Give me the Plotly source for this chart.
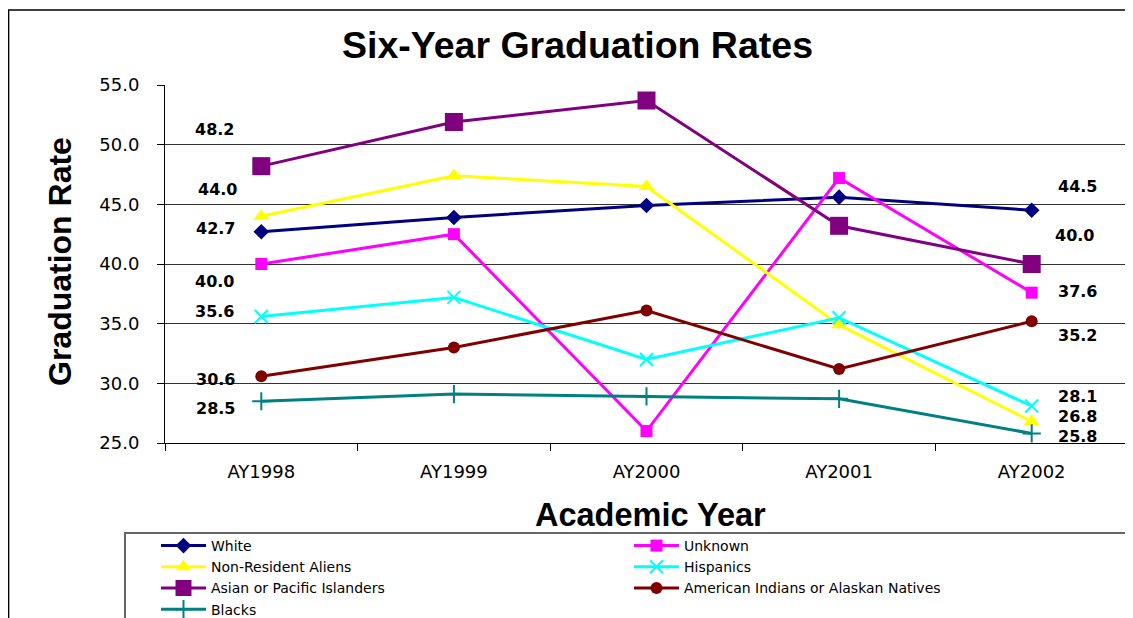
import plotly.graph_objects as go

# data
years = ["AY1998", "AY1999", "AY2000", "AY2001", "AY2002"]

white = [42.7, 43.9, 44.9, 45.6, 44.5]
unknown = [40.0, 42.5, 26.0, 47.2, 37.6]
non_resident = [44.0, 47.4, 46.5, 34.9, 26.8]
hispanics = [35.6, 37.2, 32.0, 35.5, 28.1]
asian = [48.2, 51.9, 53.7, 43.2, 40.0]
american_indian = [30.6, 33.0, 36.1, 31.2, 35.2]
blacks = [28.5, 29.1, 28.9, 28.7, 25.8]

y_ticks = [25, 30, 35, 40, 45, 50, 55]

# page geometry (pixels); the html body adds an 8px margin
OFF = 8
W, H = 1133 - OFF, 618 - OFF
L, R, T, B = 165, 1128, 85, 443   # plot box in page pixels


def px_x(p):
    return (p - L) / (R - L)


def px_y(p):
    return (B - p) / (B - T)


# name, values, color, marker symbol, marker size, label shift at first / last point
series = [
    ("White", white, "#000080", "diamond", 12, (-46, 3), (46, 24)),
    ("Unknown", unknown, "#FF00FF", "square", 12, (-47, -17), (46, 1)),
    ("Non-Resident Aliens", non_resident, "#FFFF00", "triangle-up", 14, (-44, 27), (46, 5)),
    ("Hispanics", hispanics, "#00FFFF", "x-thin-open", 13, (-47, 5), (46, 10)),
    ("Asian or Pacific Islanders", asian, "#800080", "square", 18, (-47, 37), (43, 29)),
    ("American Indians or Alaskan Natives", american_indian, "#800000", "circle", 12, (-46, -3), (46, -14)),
    ("Blacks", blacks, "#008080", "cross-thin-open", 13, (-46, -7), (46, -3)),
]

fig = go.Figure()
annotations = []

for name, vals, color, symbol, size, first_shift, last_shift in series:
    open_marker = symbol.endswith("open")
    fig.add_trace(go.Scatter(
        x=years, y=vals, name=name, mode="lines+markers",
        line=dict(color=color, width=3),
        marker=dict(symbol=symbol, size=size, color=color,
                    line=dict(color=color, width=2 if open_marker else 0)),
    ))
    for idx, (dx, dy) in ((0, first_shift), (len(vals) - 1, last_shift)):
        annotations.append(dict(
            x=years[idx], y=vals[idx], xref="x", yref="y",
            xanchor="center", yanchor="middle",
            text=f"{vals[idx]:.1f}", showarrow=False,
            xshift=dx, yshift=dy, borderpad=0,
            font=dict(family="DejaVu Sans", size=16, color="black", weight="bold"),
        ))

# titles
annotations.append(dict(
    x=px_x(577), y=px_y(45), xref="paper", yref="paper", showarrow=False,
    xanchor="center", yanchor="middle",
    text="Six-Year Graduation Rates",
    font=dict(family="Liberation Sans", size=37.5, color="black", weight="bold"),
))
annotations.append(dict(
    x=px_x(650), y=px_y(515), xref="paper", yref="paper", showarrow=False,
    xanchor="center", yanchor="middle",
    text="Academic Year",
    font=dict(family="Liberation Sans", size=32.5, color="black", weight="bold"),
))
annotations.append(dict(
    x=px_x(60), y=px_y(262), xref="paper", yref="paper", showarrow=False,
    xanchor="center", yanchor="middle",
    text="Graduation Rate", textangle=-90,
    font=dict(family="Liberation Sans", size=32, color="black", weight="bold"),
))

shapes = [
    # outer chart border
    dict(type="rect", xref="paper", yref="paper",
         x0=px_x(8.6), x1=px_x(1128), y0=px_y(10), y1=px_y(720),
         line=dict(color="black", width=1.5), layer="below"),
    # legend box
    dict(type="rect", xref="paper", yref="paper",
         x0=px_x(125), x1=px_x(1160), y0=px_y(533), y1=px_y(720),
         line=dict(color="#666666", width=2), layer="below"),
]

fig.update_layout(
    width=W, height=H,
    margin=dict(l=L - OFF, r=W - (R - OFF), t=T - OFF, b=H - (B - OFF), autoexpand=False),
    paper_bgcolor="white", plot_bgcolor="white",
    annotations=annotations,
    shapes=shapes,
    showlegend=True,
    legend=dict(
        orientation="h", x=px_x(156), y=px_y(530), xanchor="left", yanchor="top",
        entrywidth=413, entrywidthmode="pixels", itemwidth=45,
        font=dict(family="DejaVu Sans", size=14, color="black"),
        bgcolor="rgba(0,0,0,0)", borderwidth=0, traceorder="normal",
    ),
    xaxis=dict(
        type="category", range=[-0.5, 4.5], tickson="boundaries",
        showline=True, linecolor="black", linewidth=1,
        ticks="outside", ticklen=7, tickcolor="black",
        showgrid=False, ticklabelstandoff=12,
        tickfont=dict(family="DejaVu Sans", size=18, color="black"),
    ),
    yaxis=dict(
        range=[25, 55], tickvals=y_ticks, tickformat=".1f",
        showline=True, linecolor="black", linewidth=1,
        ticks="outside", ticklen=7, tickcolor="black",
        showgrid=True, gridcolor="#333333", gridwidth=1,
        zeroline=False, ticklabelstandoff=14,
        tickfont=dict(family="DejaVu Sans", size=18, color="black"),
    ),
)

fig.write_html("out.html")
